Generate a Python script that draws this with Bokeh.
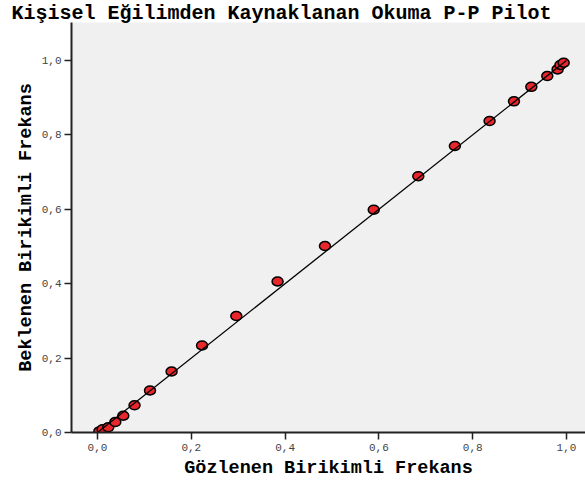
from bokeh.plotting import figure
from bokeh.models import Range1d, FixedTicker, ColumnDataSource
from bokeh.embed import file_html
from bokeh.resources import INLINE

# ---- data ----
observed = [0.004, 0.011, 0.023, 0.038, 0.055, 0.079, 0.112, 0.158, 0.223, 0.296,
            0.384, 0.485, 0.589, 0.684, 0.762, 0.836, 0.888, 0.925, 0.959, 0.981,
            0.987, 0.994]
expected = [0.003, 0.009, 0.014, 0.028, 0.045, 0.073, 0.113, 0.164, 0.234, 0.313,
            0.406, 0.501, 0.599, 0.689, 0.770, 0.837, 0.890, 0.929, 0.958, 0.976,
            0.988, 0.994]
ref_x = [0.0, 1.0]
ref_y = [0.0, 1.0]
tick_values = [0.0, 0.2, 0.4, 0.6, 0.8, 1.0]
tick_labels = ["0,0", "0,2", "0,4", "0,6", "0,8", "1,0"]
title_text = "Kişisel Eğilimden Kaynaklanan Okuma P-P Pilot"
x_label = "Gözlenen Birikimli Frekans"
y_label = "Beklenen Birikimli Frekans"

FONT = "Liberation Mono"

p = figure(width=585, height=481, output_backend="svg", toolbar_location=None,
           x_range=Range1d(-0.0554, 1.0405), y_range=Range1d(0, 1.102),
           min_border_left=71, min_border_right=0, min_border_top=22,
           min_border_bottom=48, title=title_text)
p.background_fill_color = "#f0f0f0"
p.border_fill_color = "white"
p.outline_line_color = None
p.grid.visible = False

p.title.align = "left"
p.title.offset = -60
p.title.standoff = -5
p.title.text_font = FONT
p.title.text_font_size = "20px"
p.title.text_font_style = "bold"
p.title.text_color = "black"
p.title.text_line_height = 1.0

src = ColumnDataSource(dict(x=observed, y=expected))
p.ellipse(x="x", y="y", width=11, height=9, width_units="screen",
          height_units="screen", source=src, fill_color="#e8262b",
          line_color="black", line_width=1.5)
p.line(ref_x, ref_y, line_color="black", line_width=1.3)

for ax in (p.xaxis[0], p.yaxis[0]):
    ax.ticker = FixedTicker(ticks=tick_values)
    ax.major_label_overrides = dict(zip(tick_values, tick_labels))
    ax.minor_tick_line_color = None
    ax.major_tick_in = 0
    ax.major_tick_out = 7
    ax.major_tick_line_color = "#222222"
    ax.major_tick_line_width = 1.5
    ax.axis_line_color = "#222222"
    ax.axis_line_width = 2
    ax.major_label_text_font = FONT
    ax.major_label_text_font_size = "11px"
    ax.major_label_text_color = "#444444"
    ax.major_label_text_line_height = 0.8
    ax.axis_label_text_font = FONT
    ax.axis_label_text_font_size = "18.5px"
    ax.axis_label_text_font_style = "bold"
    ax.axis_label_text_color = "black"
    ax.axis_label_text_line_height = 0.8

p.xaxis.axis_label = x_label
p.yaxis.axis_label = y_label
p.xaxis.major_label_standoff = 4
p.xaxis.axis_label_standoff = 4
p.yaxis.major_label_standoff = 3
p.yaxis.axis_label_standoff = 2

open("out.html", "w").write(file_html(p, INLINE))
